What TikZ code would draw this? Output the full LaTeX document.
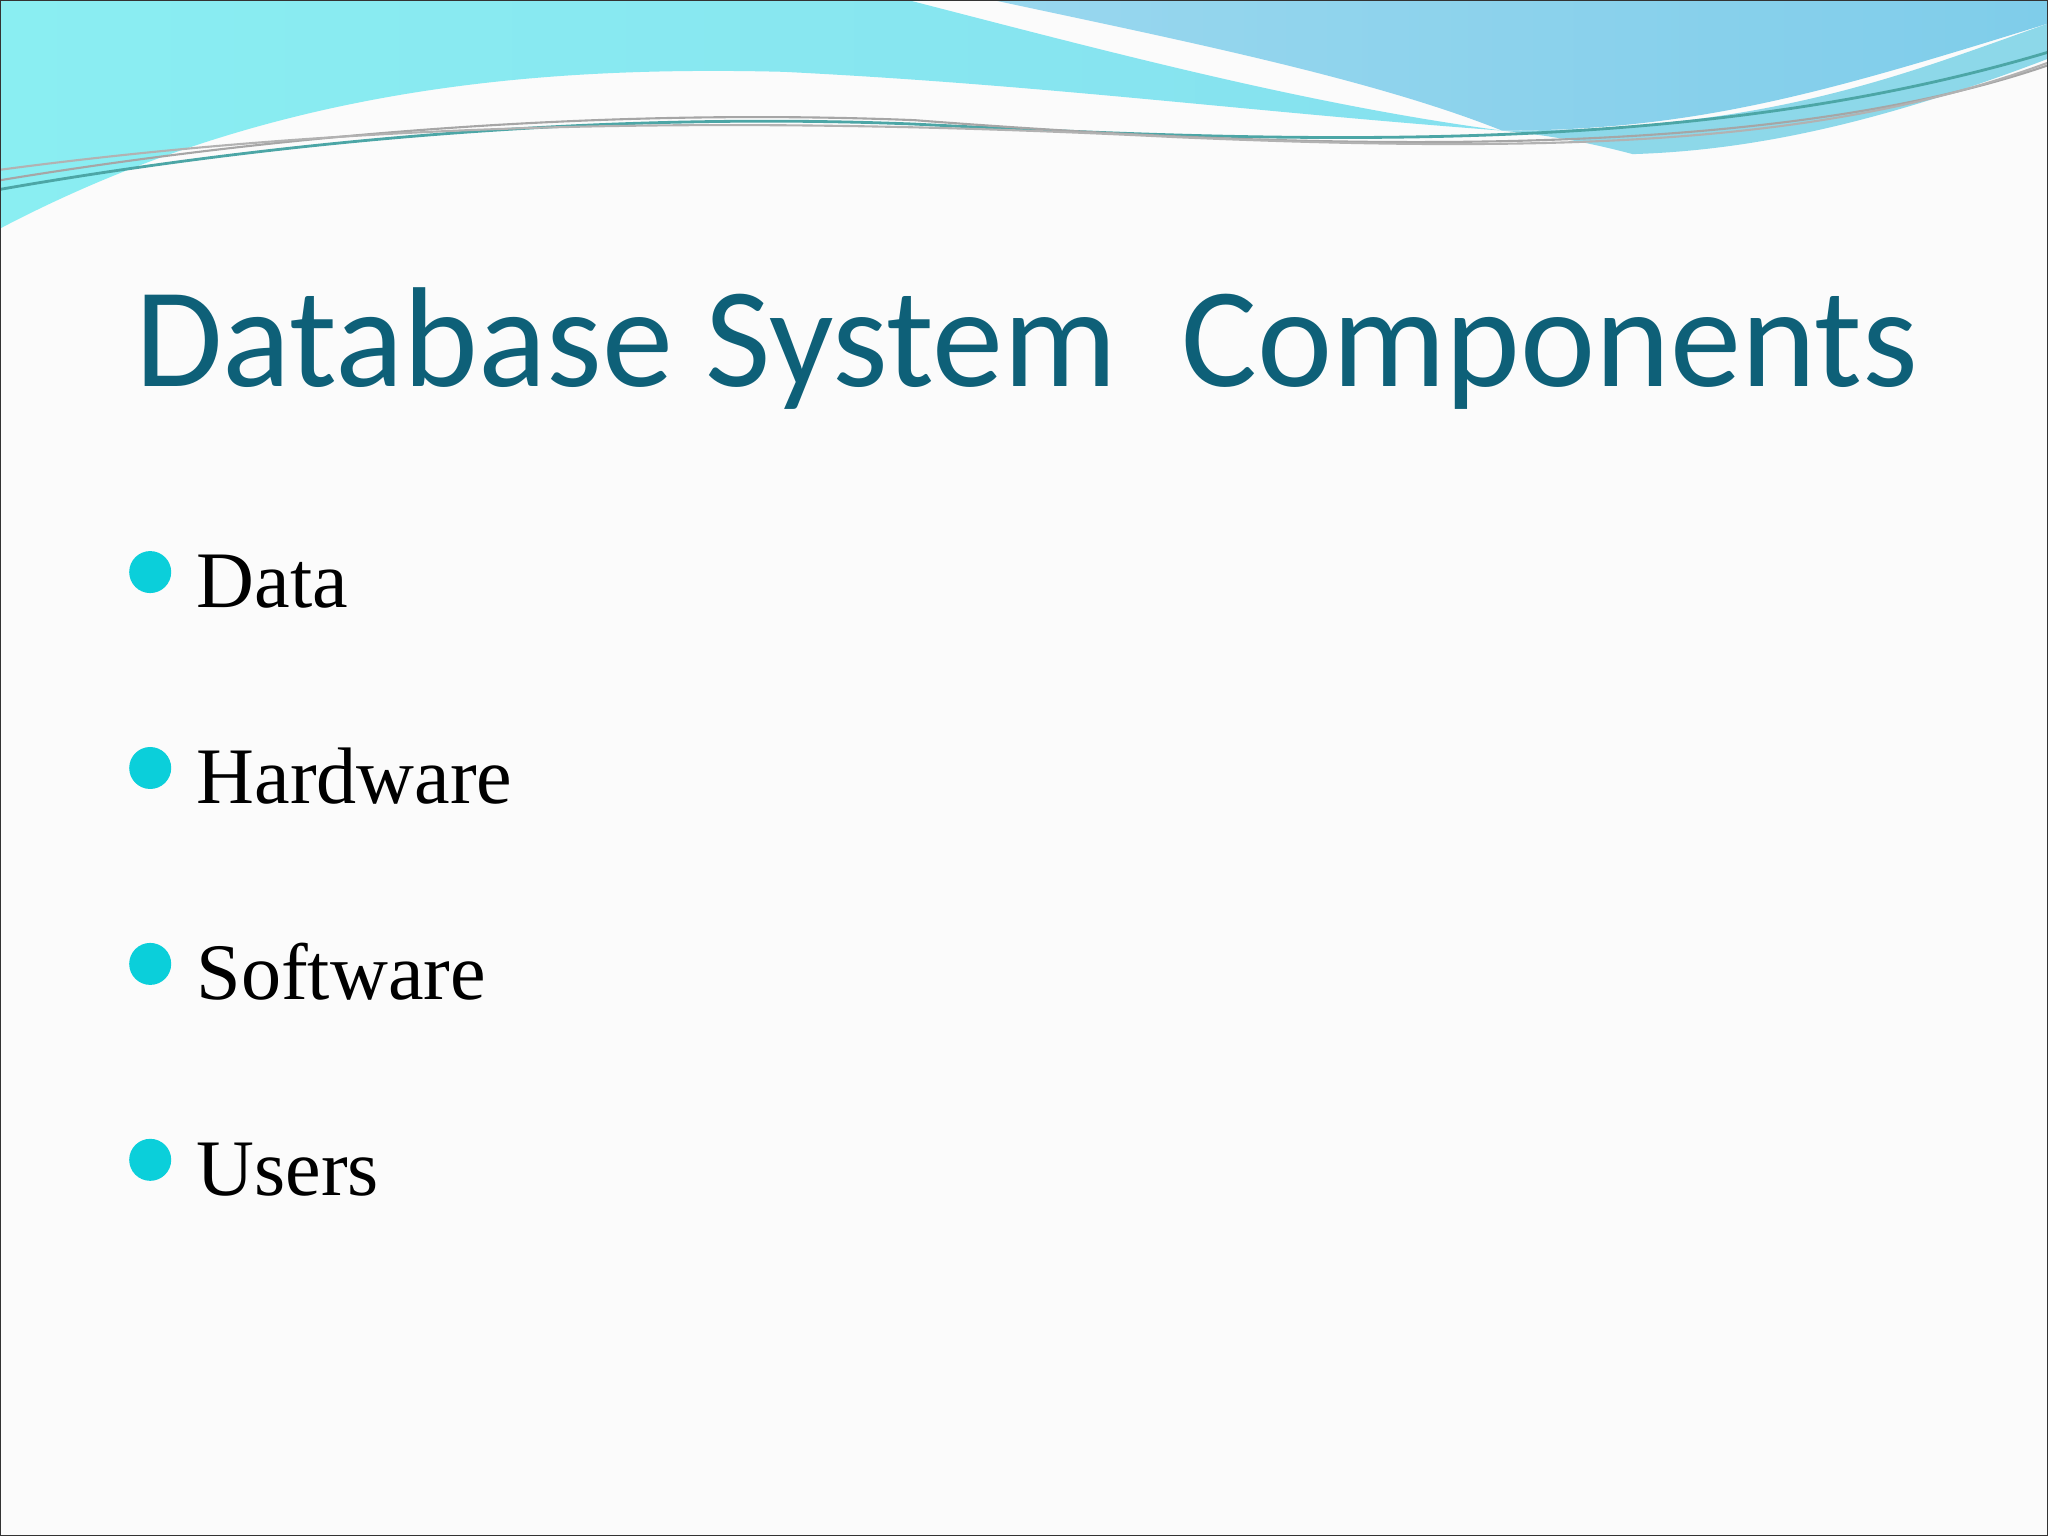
\documentclass[tikz,border=0pt]{standalone}
\usepackage{fontspec}
\setmainfont{Liberation Serif}
\newfontfamily\titlefont{Carlito}
\begin{document}
\begin{tikzpicture}[x=0.013061cm,y=-0.013061cm,
  bullettext/.style={anchor=base west,font=\fontsize{22.8}{27}\selectfont,text=black,inner sep=0},
  dot/.style={circle,fill=bulletc,minimum size=0.42cm,inner sep=0}]
\definecolor{titlec}{HTML}{0E6078}
\definecolor{bulletc}{HTML}{0BCFDA}
\definecolor{wavea}{HTML}{8AEEF2}
\definecolor{waveb}{HTML}{7FCDEA}
\definecolor{wavec}{HTML}{5CC8E0}
\fill[white!97!gray] (0,0) rectangle (1568,1176);
\useasboundingbox (0,0) rectangle (1568,1176);
% left light band
\shade[left color=wavea,right color=wavea!60!waveb] (0,0) -- (695,0) .. controls (850,40) and (1000,80) .. (1150,100)
  .. controls (950,85) and (800,65) .. (600,55) .. controls (400,50) and (200,70) .. (0,175) -- cycle;
% right blue region
\shade[left color=waveb!80!white,right color=waveb] (760,0) -- (1568,0) -- (1568,18) .. controls (1400,70) and (1300,100) .. (1150,100)
  .. controls (1050,60) and (900,30) .. (760,0) -- cycle;
% lower thin band
\fill[wavec!70!white] (1150,100) .. controls (1350,100) and (1450,60) .. (1568,18) -- (1568,45)
  .. controls (1450,90) and (1350,115) .. (1250,118) .. controls (1220,110) and (1190,104) .. (1150,100) -- cycle;
% thin lines
\draw[teal!70,line width=0.8] (0,145) .. controls (200,110) and (450,85) .. (700,95) .. controls (1000,110) and (1300,120) .. (1568,40);
\draw[gray!70,line width=0.6] (0,138) .. controls (200,105) and (450,82) .. (700,92) .. controls (1000,115) and (1350,125) .. (1568,50);
\draw[gray!60,line width=0.6] (0,130) .. controls (300,90) and (600,90) .. (900,105) .. controls (1200,118) and (1400,110) .. (1568,48);
\node[anchor=base west,inner sep=0,text=titlec,font=\titlefont\fontsize{40.5}{48}\selectfont] (title) at (103,296) {Database System\ \ Components};
\node[dot] (b1) at (115,438) {};
\node[bullettext] (t1) at (150,465) {Data};
\node[dot] (b2) at (115,588) {};
\node[bullettext] (t2) at (150,615) {Hardware};
\node[dot] (b3) at (115,738) {};
\node[bullettext] (t3) at (150,765) {Software};
\node[dot] (b4) at (115,888) {};
\node[bullettext] (t4) at (150,915) {Users};
\draw[black!80,line width=0.8] (0,0) rectangle (1568,1176);
\end{tikzpicture}
\end{document}
